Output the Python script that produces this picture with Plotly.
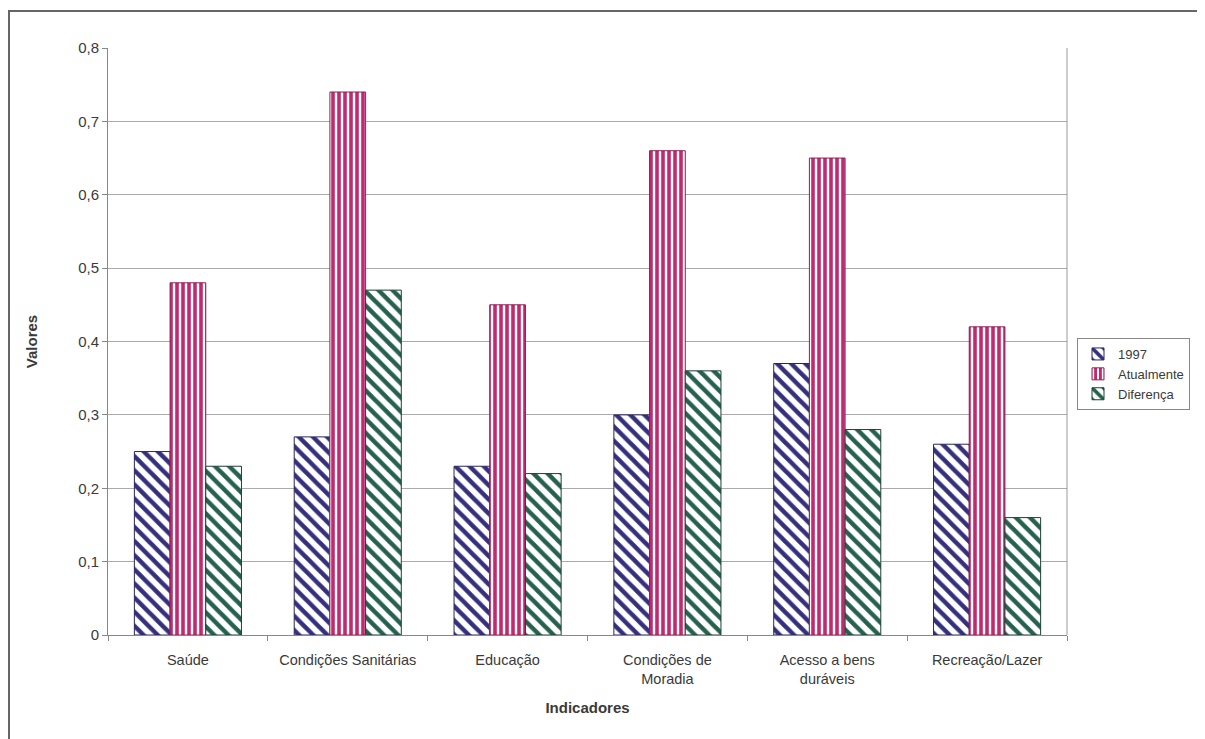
import plotly.graph_objects as go

categories = ["Saúde", "Condições Sanitárias", "Educação", "Condições de<br>Moradia",
              "Acesso a bens<br>duráveis", "Recreação/Lazer"]
v1997 = [0.25, 0.27, 0.23, 0.30, 0.37, 0.26]
atualmente = [0.48, 0.74, 0.45, 0.66, 0.65, 0.42]
diferenca = [0.23, 0.47, 0.22, 0.36, 0.28, 0.16]
tick_vals = [0, 0.1, 0.2, 0.3, 0.4, 0.5, 0.6, 0.7, 0.8]
tick_text = ["0", "0,1", "0,2", "0,3", "0,4", "0,5", "0,6", "0,7", "0,8"]

fig = go.Figure()
fig.add_trace(go.Bar(
    x=categories, y=v1997, name="1997",
    marker=dict(color="white", line=dict(color="#2a2660", width=1),
                pattern=dict(shape="\\", fgcolor="#34307c", bgcolor="white",
                             size=10, solidity=0.45, fgopacity=1)),
))
fig.add_trace(go.Bar(
    x=categories, y=atualmente, name="Atualmente",
    marker=dict(color="white", line=dict(color="#8a2050", width=1),
                pattern=dict(shape="|", fgcolor="#c42870", bgcolor="white",
                             size=6, solidity=0.6, fgopacity=1)),
))
fig.add_trace(go.Bar(
    x=categories, y=diferenca, name="Diferença",
    marker=dict(color="white", line=dict(color="#1e3f34", width=1),
                pattern=dict(shape="\\", fgcolor="#26604f", bgcolor="white",
                             size=10, solidity=0.45, fgopacity=1)),
))

# body margin of 8px shifts the figure; compensate
OFF = 8
W, H = 1205 - OFF, 739 - OFF
L, R, T, B = 108 - OFF, 138, 48 - OFF, 104
pw, ph = W - L - R, H - T - B

def px_x(x):
    return (x - OFF - L) / pw

def px_y(y):
    return (H - B - (y - OFF)) / ph

TXT = "#3a3a3a"
fig.update_layout(
    width=W, height=H,
    margin=dict(l=L, r=R, t=T, b=B, pad=0),
    paper_bgcolor="white", plot_bgcolor="white",
    barmode="group", bargap=0.33, bargroupgap=0,
    font=dict(family="Liberation Sans, Arial, sans-serif", size=14, color=TXT),
    legend=dict(x=px_x(1077), y=px_y(338), xanchor="left", yanchor="top",
                bordercolor="#888888", borderwidth=1, bgcolor="white",
                font=dict(size=13, color=TXT),
                itemwidth=30, tracegroupgap=0),
    showlegend=True,
    xaxis=dict(
        title=dict(text="<b>Indicadores</b>", font=dict(size=15, color=TXT), standoff=16),
        showline=True, linecolor="#888888", linewidth=1, mirror=False,
        ticks="outside", tickson="boundaries", ticklen=5, tickcolor="#888888",
        tickfont=dict(size=14.5, color=TXT), ticklabelstandoff=12,
        showgrid=False,
    ),
    yaxis=dict(
        title=dict(text="<b>Valores</b>", font=dict(size=15, color=TXT), standoff=36),
        range=[0, 0.8], tickvals=tick_vals, ticktext=tick_text,
        showline=True, linecolor="#888888", linewidth=1,
        ticks="outside", ticklen=5, tickcolor="#888888",
        showgrid=True, gridcolor="#aaaaaa", gridwidth=1,
        tickfont=dict(size=15, color=TXT),
        zeroline=False,
    ),
    shapes=[
        dict(type="line", xref="paper", yref="paper", x0=1, x1=1, y0=0, y1=1,
             line=dict(color="#999999", width=1)),
        dict(type="rect", xref="paper", yref="paper",
             x0=px_x(9), x1=px_x(1215), y0=px_y(750), y1=px_y(11),
             line=dict(color="#666666", width=2), fillcolor="rgba(0,0,0,0)"),
    ],
)

fig.write_html("out.html")
